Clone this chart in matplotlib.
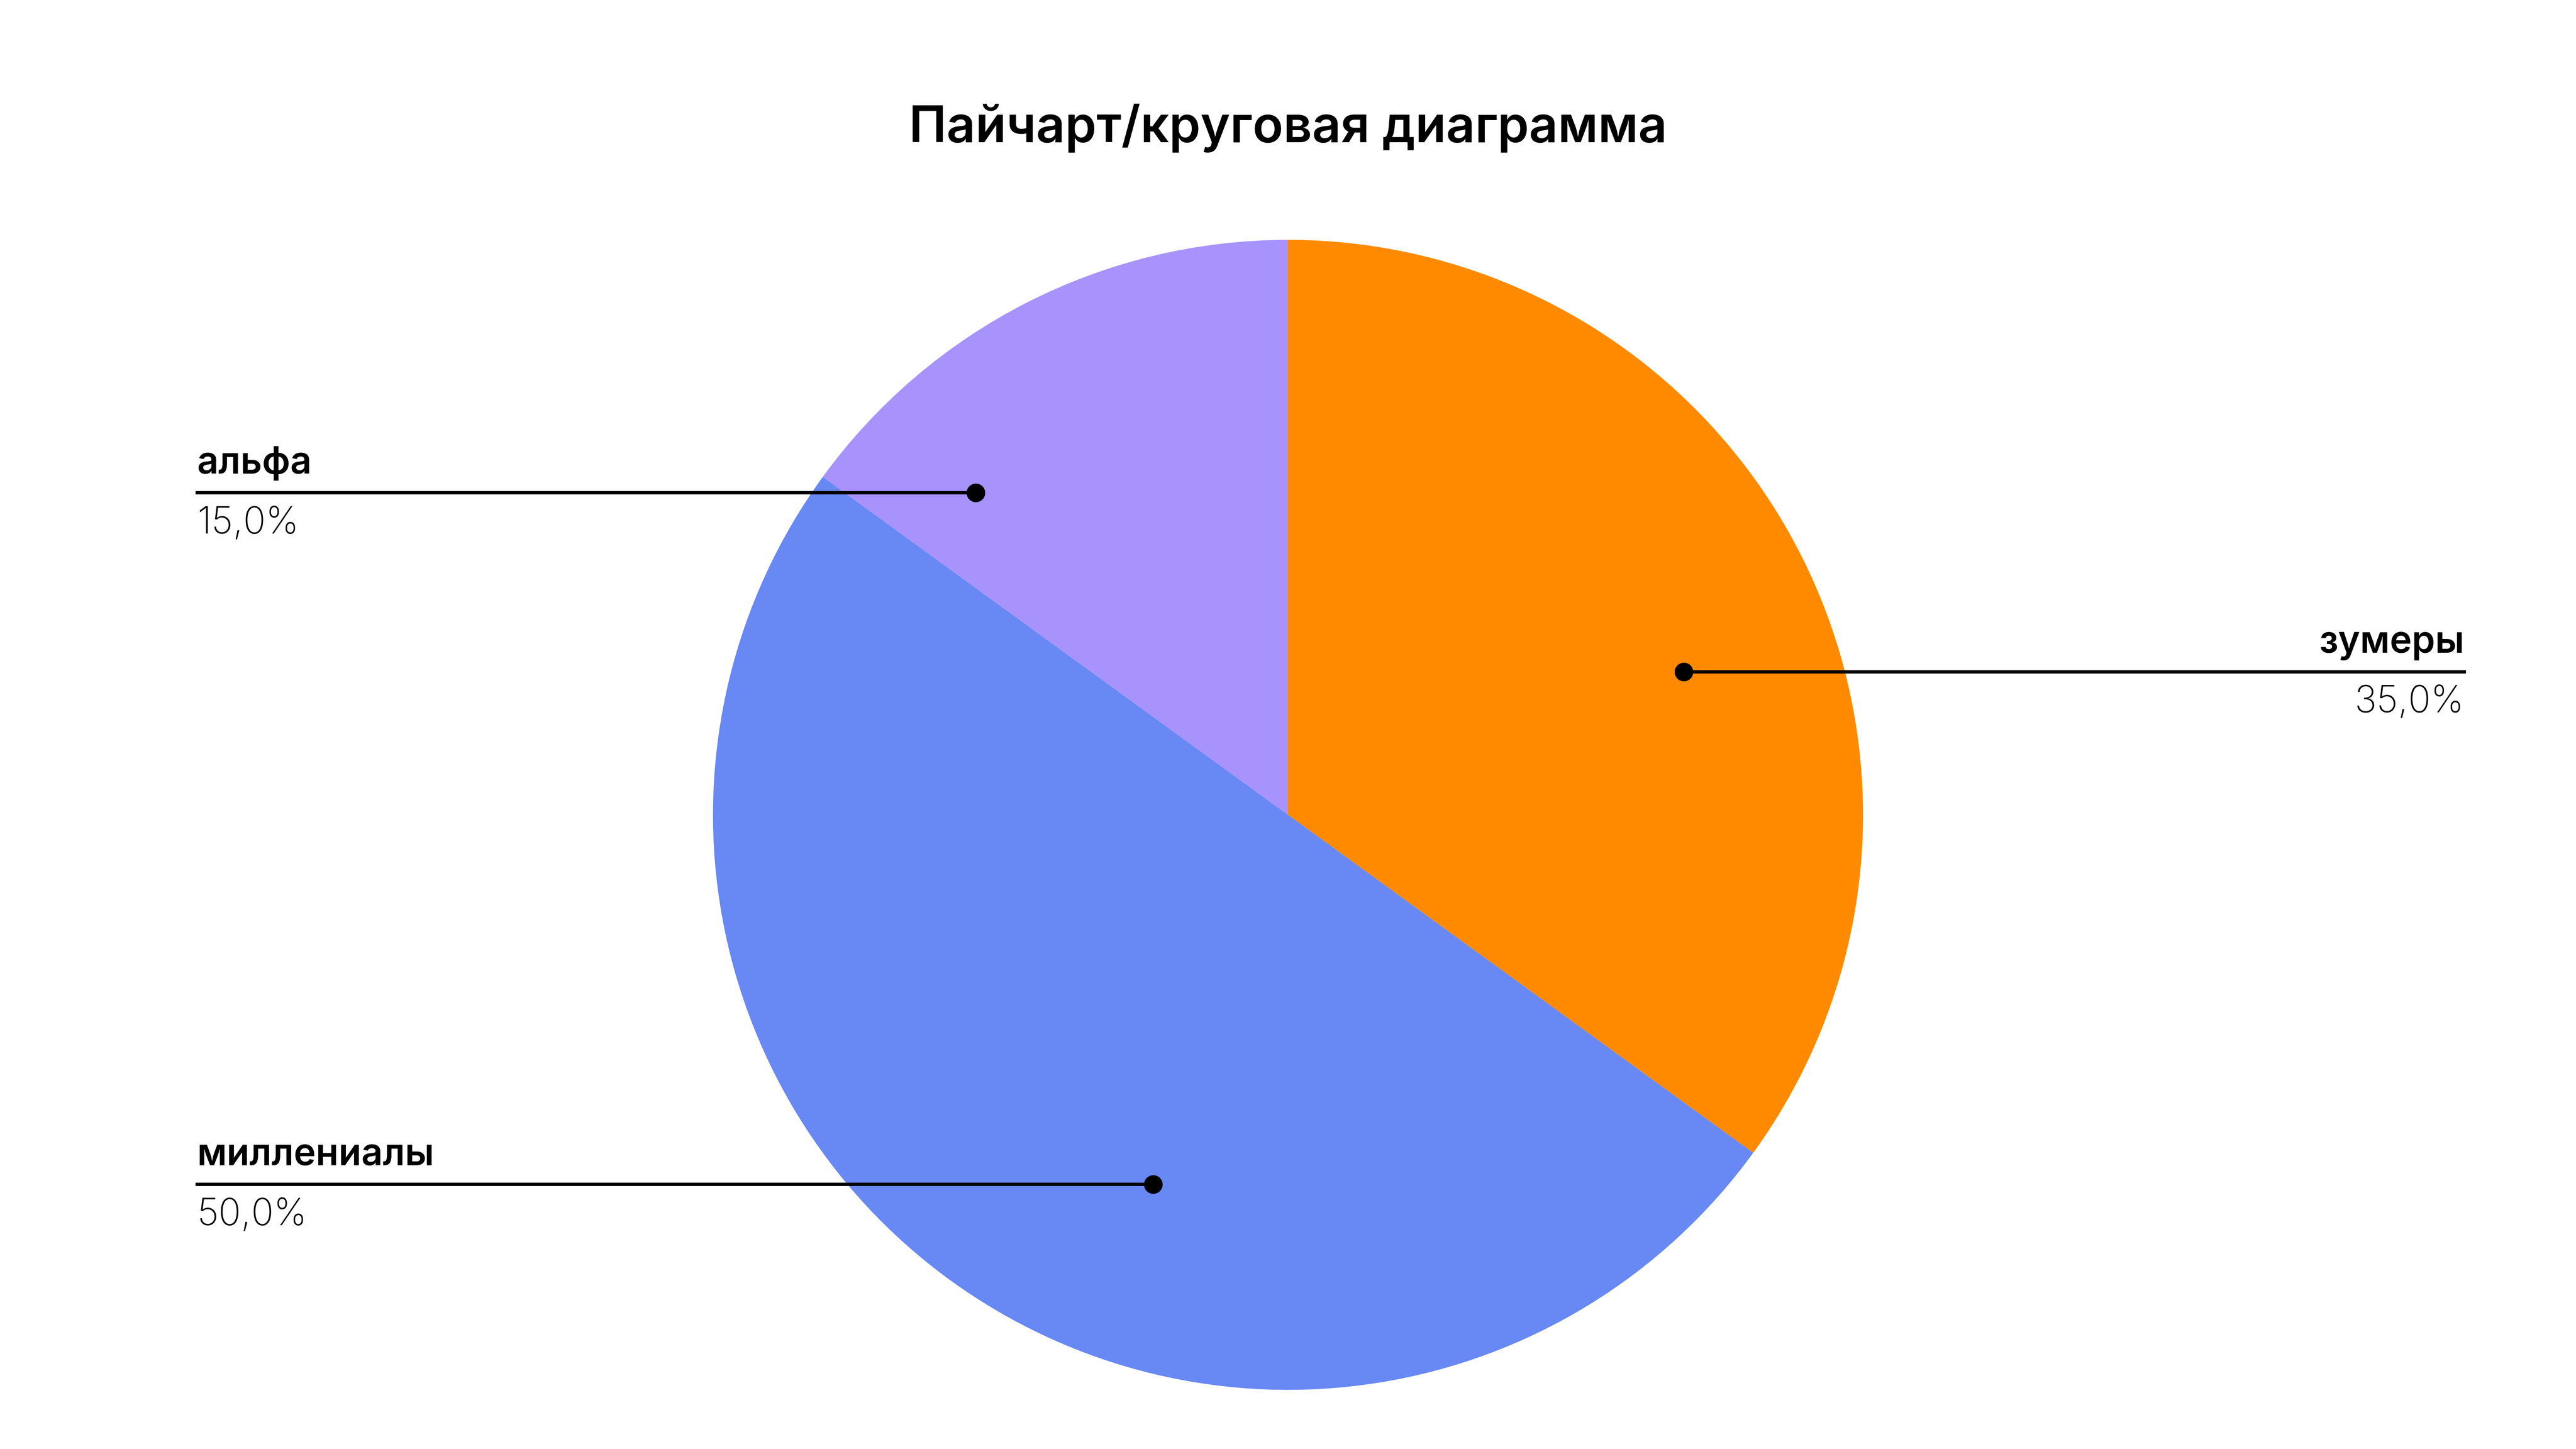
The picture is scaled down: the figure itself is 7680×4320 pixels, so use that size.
import matplotlib.pyplot as plt

labels = ["зумеры", "миллениалы", "альфа"]
shares = [35.0, 50.0, 15.0]
colors = ["#FF8A00", "#6888F3", "#A893FD"]

# label anchor points in canvas pixels (1568 x 882 grid, y from bottom)
dot_x = [1025, 702, 594]
dot_y = [882 - 409, 882 - 721, 882 - 300]
line_end = [1500, 120, 120]

plt.rcParams["font.family"] = ["Inter", "DejaVu Sans"]

fig = plt.figure(figsize=(19.2, 10.8), dpi=400)
ax = fig.add_axes([0, 0, 1, 1])
ax.set_xlim(0, 1568)
ax.set_ylim(0, 882)
ax.axis("off")

ax.pie(shares, colors=colors, startangle=90, counterclock=False,
       center=(784, 882 - 496), radius=350, frame=True)
ax.set_xlim(0, 1568)
ax.set_ylim(0, 882)
ax.set_aspect("equal")
ax.axis("off")

fig.text(0.5, 1 - 78 / 882, "Пайчарт/круговая диаграмма", ha="center", va="center",
         fontsize=27, fontweight="semibold")

for name, val, x, y, xe in zip(labels, shares, dot_x, dot_y, line_end):
    ax.plot([x, xe], [y, y], color="black", lw=1.8)
    ax.plot(x, y, "o", color="black", ms=9)
    ha = "right" if xe > x else "left"
    ax.text(xe, y + 7, name, ha=ha, va="bottom", fontsize=20, fontweight="semibold")
    ax.text(xe, y - 8, f"{val:.1f}%".replace(".", ","), ha=ha, va="top",
            fontsize=20, fontweight="light")

fig.savefig("out.png")
